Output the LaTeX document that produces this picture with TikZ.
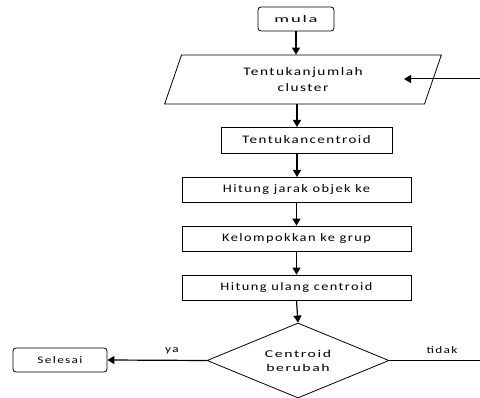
\documentclass[tikz,border=0pt]{standalone}
\usepackage{fontspec}
\usepackage{graphicx}
\setmainfont{Carlito}
\newfontfamily\boxfont[LetterSpace=10]{Carlito}
\newcommand\wtxt[2][1.25]{\scalebox{#1}[1]{#2}}
\usetikzlibrary{arrows.meta,shapes.geometric}
\begin{document}
\begin{tikzpicture}[x=1pt,y=-1pt,
  box/.style={draw,line width=0.8pt,minimum height=25pt,inner sep=0pt,font=\boxfont\fontsize{11.5}{14}\selectfont},
  term/.style={draw,line width=0.8pt,rounded corners=3pt,inner sep=0pt,font=\boxfont\fontsize{10}{12}\selectfont},
  conn/.style={line width=1.2pt,-{Triangle[length=7pt,width=8pt]}},
  lbl/.style={font=\boxfont\fontsize{10}{12}\selectfont,inner sep=0pt}]
\useasboundingbox (0,0) rectangle (480,398);
\node[term,minimum width=76pt,minimum height=24pt] (mula) at (296,19) {\wtxt[1.85]{mula}};
\node[trapezium,trapezium left angle=71,trapezium right angle=109,draw,line width=0.8pt,
  minimum width=203pt,minimum height=49pt,inner sep=0pt,align=center,
  font=\boxfont\fontsize{11.5}{16}\selectfont] (jml) at (303,79.5) {\wtxt[1.33]{Tentukanjumlah}\\\wtxt[1.33]{cluster}};
\node[box,minimum width=171pt,minimum height=26pt] (cent) at (306.5,140) {\wtxt[1.3]{Tentukancentroid}};
\node[box,minimum width=229pt] (jarak) at (296.5,189.5) {\wtxt{Hitung jarak objek ke}};
\node[box,minimum width=229pt] (kel) at (296.5,238.5) {\wtxt{Kelompokkan ke grup}};
\node[box,minimum width=229pt] (ulang) at (296.5,287.5) {\wtxt{Hitung ulang centroid}};
\node[diamond,draw,line width=0.8pt,minimum width=182pt,minimum height=75pt,inner sep=0pt,
  aspect=2.4,align=center,font=\boxfont\fontsize{10.5}{14}\selectfont] (dec) at (298,360.5) {\wtxt[1.5]{Centroid}\\\wtxt[1.5]{berubah}};
\node[term,minimum width=94pt,minimum height=24pt] (sel) at (60,360) {\wtxt[1.33]{Selesai}};
\coordinate (r1) at (480,360.5);
\coordinate (r2) at (480,79);
\coordinate (t2) at (404,79);
\draw[conn] (mula.south) -- (mula.south |- jml.north);
\draw[conn] (297,104) -- (297,127);
\draw[conn] (297,153) -- (297,177);
\draw[conn] (jarak.south) -- (kel.north);
\draw[conn] (kel.south) -- (ulang.north);
\draw[conn] (ulang.south) -- (dec.north);
\draw[conn] (dec.west) -- (sel.east) node[lbl,pos=0.35,above=6pt] {\wtxt[1.33]{ya}};
\draw[line width=1pt] (dec.east) -- (r1) node[lbl,pos=0.58,above=6pt] {\wtxt[1.33]{tidak}};
\draw[conn,line width=1pt] (r2) -- (t2);
\end{tikzpicture}
\end{document}
